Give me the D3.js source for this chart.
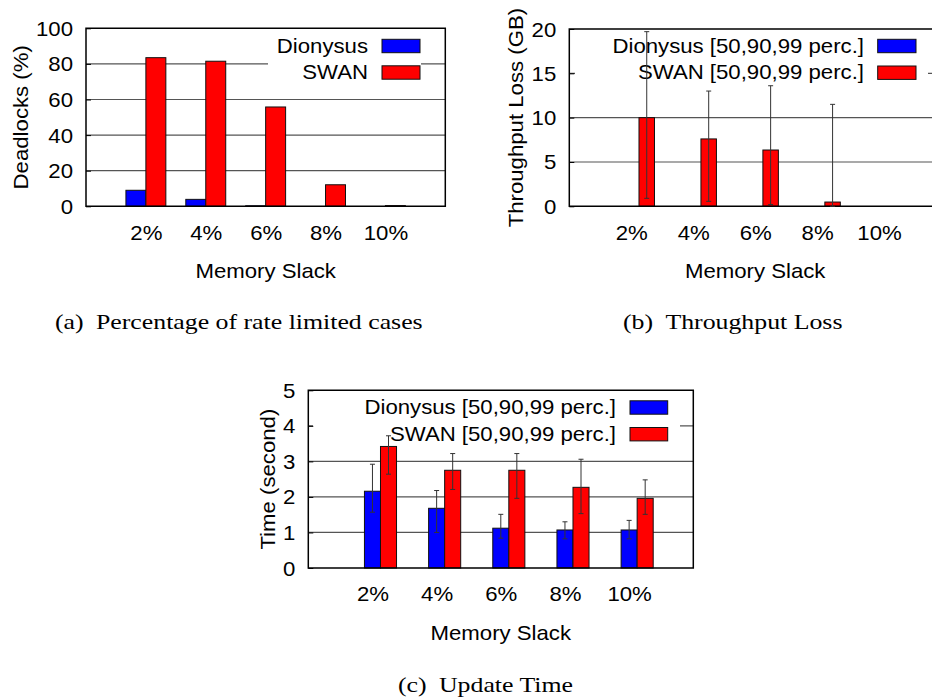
<!DOCTYPE html>
<html>
<head>
<meta charset="utf-8">
<script src="https://cdn.jsdelivr.net/npm/d3@7"></script>
<style>
  html, body { margin: 0; padding: 0; background: #fff; }
  svg { display: block; }
</style>
</head>
<body>
<svg id="fig" width="932" height="698"></svg>
<script>
// ---- data ----
const categories = ["2%", "4%", "6%", "8%", "10%"];
const seriesNames = ["Dionysus", "SWAN"];

// (a) share of rate limited cases that deadlock, percent
const deadlockDionysus = [9.0, 3.9, 0.3, 0, 0];
const deadlockSwan = [83.5, 81.5, 55.8, 12.1, 0.4];

// (b) throughput loss in GB, 50th / 90th / 99th percentile
const lossDionysusP50 = [0, 0, 0, 0, 0];
const lossDionysusP90 = [0, 0, 0, 0, 0];
const lossDionysusP99 = [0, 0, 0, 0, 0];
const lossSwanP50 = [0.9, 0.56, 0.2, 0, 0];
const lossSwanP90 = [10.0, 7.6, 6.35, 0.48, 0];
const lossSwanP99 = [19.7, 13.0, 13.6, 11.5, 0];

// (c) update time in seconds, 50th / 90th / 99th percentile
const timeDionysusP50 = [1.57, 1.0, 0.84, 0.82, 0.82];
const timeDionysusP90 = [2.16, 1.68, 1.12, 1.07, 1.07];
const timeDionysusP99 = [2.92, 2.18, 1.51, 1.30, 1.34];
const timeSwanP50 = [2.64, 2.21, 1.96, 1.53, 1.51];
const timeSwanP90 = [3.42, 2.75, 2.75, 2.27, 1.96];
const timeSwanP99 = [3.72, 3.22, 3.22, 3.06, 2.48];

const yTicksA = [0, 20, 40, 60, 80, 100];
const yTicksB = [0, 5, 10, 15, 20];
const yTicksC = [0, 1, 2, 3, 4, 5];

// ---- styling ----
const SANS = "'Liberation Sans', Arial, Helvetica, sans-serif";
const SERIF = "'Liberation Serif', 'Times New Roman', serif";
const SANS_SIZE = 20, SANS_SX = 1.11;
const SERIF_SIZE = 21, SERIF_SX = 1.23;
const BLUE = "#0000ff", RED = "#ff0000";

const svg = d3.select("#fig");

function sansText(g, x, y, str, anchor, extra) {
  return g.append("text")
    .attr("transform", `translate(${x},${y}) ${extra || ""} scale(${SANS_SX},1)`)
    .attr("text-anchor", anchor)
    .attr("font-family", SANS).attr("font-size", SANS_SIZE)
    .attr("fill", "#000")
    .text(str);
}

function drawPanel(p) {
  const g = svg.append("g");
  const x = d3.scaleLinear().domain([-1, 5]).range([p.left, p.right]);
  const y = d3.scaleLinear().domain([0, p.yMax]).range([p.bottom, p.top]);
  const unit = x(1) - x(0);

  // horizontal grid
  g.append("g").selectAll("line")
    .data(p.yTicks.filter(v => v > 0 && v < p.yMax))
    .join("line")
    .attr("x1", p.left).attr("x2", p.right)
    .attr("y1", d => y(d)).attr("y2", d => y(d))
    .attr("stroke", "#555").attr("stroke-width", 1.2);

  // opaque key box hides the grid underneath it
  g.append("rect")
    .attr("x", p.key.box[0]).attr("y", p.key.box[2])
    .attr("width", p.key.box[1] - p.key.box[0])
    .attr("height", p.key.box[3] - p.key.box[2])
    .attr("fill", "#fff");

  // bars
  p.series.forEach((s, si) => {
    g.append("g").selectAll("rect")
      .data(s.values)
      .join("rect")
      .attr("x", (d, i) => x(i) + s.slot[0] * unit)
      .attr("width", (s.slot[1] - s.slot[0]) * unit)
      .attr("y", d => y(d))
      .attr("height", d => y(0) - y(d))
      .attr("fill", s.color)
      .attr("stroke", "#111").attr("stroke-width", 1);
  });

  // y axis (ticks point inward)
  const ya = g.append("g")
    .attr("transform", `translate(${p.left},0)`)
    .call(d3.axisLeft(y).tickValues(p.yTicks).tickFormat(d3.format("d"))
      .tickSizeInner(-5).tickSizeOuter(0).tickPadding(13));
  ya.select(".domain").remove();
  ya.selectAll(".tick line").attr("stroke", "#000");
  ya.selectAll(".tick text").attr("font-family", SANS).attr("font-size", SANS_SIZE)
    .attr("fill", "#000").attr("dy", "0.35em");

  // x axis labels
  const xa = g.append("g")
    .attr("transform", `translate(0,${p.bottom})`)
    .call(d3.axisBottom(x).tickValues(d3.range(categories.length))
      .tickFormat(i => categories[i]).tickSizeInner(0).tickSizeOuter(0).tickPadding(19));
  xa.select(".domain").remove();
  xa.selectAll(".tick line").remove();
  xa.selectAll(".tick text").attr("font-family", SANS).attr("font-size", SANS_SIZE)
    .attr("fill", "#000");

  // widen axis glyphs horizontally about their anchor
  [ya, xa].forEach(ax => ax.selectAll(".tick text").each(function () {
    const t = d3.select(this);
    const tx = +t.attr("x") || 0, ty = +t.attr("y") || 0;
    t.attr("x", 0).attr("y", 0).attr("transform", `translate(${tx},${ty}) scale(${SANS_SX},1)`);
  }));

  // frame
  g.append("path")
    .attr("d", `M${p.left},${p.top}H${p.right}V${p.bottom}H${p.left}Z`)
    .attr("fill", "none").attr("stroke", "#000").attr("stroke-width", 1.5);

  // key entries
  p.series.forEach((s, si) => {
    const cy = p.key.rows[si];
    sansText(g, p.key.textRight, cy + 6.5, s.label, "end");
    g.append("rect")
      .attr("x", p.key.sw[0]).attr("y", cy - 6.7)
      .attr("width", p.key.sw[1] - p.key.sw[0]).attr("height", 13.4)
      .attr("fill", s.color).attr("stroke", "#111").attr("stroke-width", 1);
  });

  // percentile whiskers (50th to 99th)
  p.series.forEach(s => {
    if (!s.low) return;
    const cx = i => x(i) + (s.slot[0] + s.slot[1]) / 2 * unit;
    const eg = g.append("g").attr("stroke", "#333").attr("stroke-width", 1);
    s.values.forEach((v, i) => {
      if (s.high[i] === 0 && s.low[i] === 0) return;
      const xc = cx(i);
      eg.append("line").attr("x1", xc).attr("x2", xc)
        .attr("y1", y(s.low[i])).attr("y2", y(s.high[i]));
      [s.low[i], s.high[i]].forEach(v2 => {
        eg.append("line").attr("x1", xc - 2.5).attr("x2", xc + 2.5)
          .attr("y1", y(v2)).attr("y2", y(v2));
      });
    });
  });

  // axis titles
  sansText(g, (p.left + p.right) / 2, p.bottom + 72, "Memory Slack", "middle");
  sansText(g, p.yTitleX, (p.top + p.bottom) / 2, p.yTitle, "middle", "rotate(-90)");

  // caption
  const cap = g.append("text")
    .attr("transform", `translate(${p.caption.x},${p.caption.y}) scale(${SERIF_SX},1)`)
    .attr("font-family", SERIF).attr("font-size", SERIF_SIZE).attr("fill", "#000");
  cap.append("tspan").text(p.caption.tag);
  cap.append("tspan").attr("dx", 10).text(p.caption.text);
}

const twoSlot = [[-1 / 3, 0], [0, 1 / 3]];
const threeSlot = [[-1 / 8, 1 / 8], [1 / 8, 3 / 8]];

drawPanel({
  left: 86, right: 445.3, top: 28.3, bottom: 206.3, yMax: 100, yTicks: yTicksA,
  series: [
    { label: seriesNames[0], color: BLUE, slot: twoSlot[0], values: deadlockDionysus },
    { label: seriesNames[1], color: RED, slot: twoSlot[1], values: deadlockSwan }
  ],
  key: { textRight: 368, sw: [382, 420], rows: [46, 72.5], box: [268, 421, 31, 86] },
  yTitle: "Deadlocks (%)", yTitleX: 28.3,
  caption: { x: 55, y: 328.5, tag: "(a)", text: "Percentage of rate limited cases" }
});

drawPanel({
  left: 569.3, right: 941, top: 29, bottom: 206.3, yMax: 20, yTicks: yTicksB,
  series: [
    { label: seriesNames[0] + " [50,90,99 perc.]", color: BLUE, slot: threeSlot[0],
      values: lossDionysusP90, low: lossDionysusP50, high: lossDionysusP99 },
    { label: seriesNames[1] + " [50,90,99 perc.]", color: RED, slot: threeSlot[1],
      values: lossSwanP90, low: lossSwanP50, high: lossSwanP99 }
  ],
  key: { textRight: 864, sw: [877.7, 916], rows: [46, 72.7], box: [575, 928, 31, 86] },
  yTitle: "Throughput Loss (GB)", yTitleX: 523.3,
  caption: { x: 623, y: 328.5, tag: "(b)", text: "Throughput Loss" }
});

drawPanel({
  left: 308.3, right: 693.3, top: 390.3, bottom: 568, yMax: 5, yTicks: yTicksC,
  series: [
    { label: seriesNames[0] + " [50,90,99 perc.]", color: BLUE, slot: threeSlot[0],
      values: timeDionysusP90, low: timeDionysusP50, high: timeDionysusP99 },
    { label: seriesNames[1] + " [50,90,99 perc.]", color: RED, slot: threeSlot[1],
      values: timeSwanP90, low: timeSwanP50, high: timeSwanP99 }
  ],
  key: { textRight: 616, sw: [630, 667.7], rows: [407.5, 434.2], box: [313, 680, 393, 446] },
  yTitle: "Time (second)", yTitleX: 275,
  caption: { x: 398, y: 691.7, tag: "(c)", text: "Update Time" }
});
</script>
</body>
</html>
